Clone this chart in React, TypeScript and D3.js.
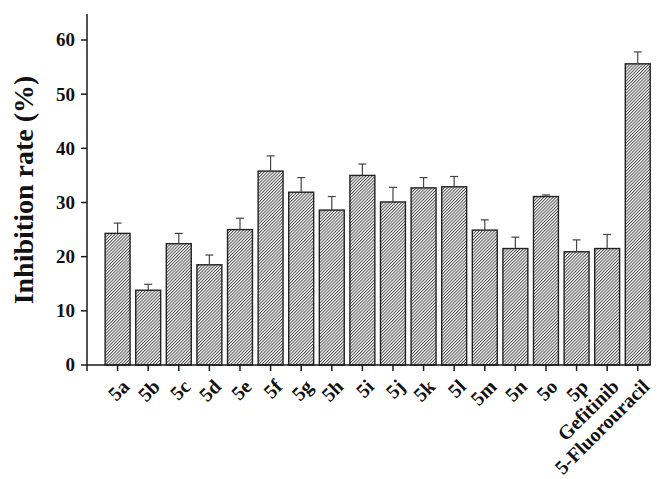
import React from "react";
import * as d3 from "d3";

// Compounds tested, mean inhibition rate (%) and standard deviation
const categories = [
  "5a", "5b", "5c", "5d", "5e", "5f", "5g", "5h", "5i", "5j",
  "5k", "5l", "5m", "5n", "5o", "5p", "Gefitinib", "5-Fluorouracil",
];
const values = [
  24.3, 13.8, 22.4, 18.5, 25.0, 35.8, 31.9, 28.6, 35.0, 30.1,
  32.7, 32.9, 24.9, 21.5, 31.1, 20.9, 21.5, 55.6,
];
const errors = [
  1.9, 1.1, 1.9, 1.8, 2.1, 2.8, 2.7, 2.5, 2.1, 2.7,
  1.9, 1.9, 1.9, 2.1, 0.3, 2.2, 2.6, 2.2,
];
const yTicks = [0, 10, 20, 30, 40, 50, 60];

const W = 660;
const H = 479;
const FONT = "'Liberation Serif', 'Times New Roman', serif";

export default function App() {
  const yMaxAxis = 64.8;
  const y = d3.scaleLinear().domain([0, 60]).range([365, 40]);
  const x = d3.scaleLinear().domain([0, categories.length + 0.4]).range([87, 650]);
  const step = x(1) - x(0);
  const barW = step * 0.815;
  const capW = 8;
  const axisColor = "#1a1a1a";

  return (
    <svg width={W} height={H} style={{ display: "block", position: "absolute", left: 0, top: 0 }}>
      <defs>
        <pattern
          id="hatch"
          patternUnits="userSpaceOnUse"
          width={2.2}
          height={10}
          patternTransform="rotate(45)"
        >
          <rect width={2.2} height={10} fill="#fff" />
          <line x1={0.5} y1={0} x2={0.5} y2={10} stroke="#333" strokeWidth={0.85} />
        </pattern>
      </defs>
      <rect width={W} height={H} fill="#fff" />

      {/* bars */}
      {values.map((v, i) => {
        const cx = x(i + 1);
        return (
          <rect
            key={categories[i]}
            x={cx - barW / 2}
            y={y(v)}
            width={barW}
            height={y(0) - y(v)}
            fill="url(#hatch)"
            stroke="#222"
            strokeWidth={1.4}
          />
        );
      })}

      {/* error bars (upper whisker) */}
      {values.map((v, i) => {
        const cx = x(i + 1);
        const top = y(v + errors[i]);
        return (
          <g key={"e" + i} stroke="#444" strokeWidth={1.2}>
            <line x1={cx} x2={cx} y1={y(v)} y2={top} />
            <line x1={cx - capW / 2} x2={cx + capW / 2} y1={top} y2={top} />
          </g>
        );
      })}

      {/* y axis */}
      <line x1={x(0)} x2={x(0)} y1={y(0)} y2={y(yMaxAxis)} stroke={axisColor} strokeWidth={1.5} />
      {yTicks.map((t) => (
        <g key={"y" + t}>
          <line x1={x(0) - 6} x2={x(0)} y1={y(t)} y2={y(t)} stroke={axisColor} strokeWidth={1.5} />
          <text
            x={x(0) - 12}
            y={y(t)}
            dy="0.34em"
            textAnchor="end"
            fontFamily={FONT}
            fontWeight="bold"
            fontSize={19}
            fill="#111"
          >
            {t}
          </text>
        </g>
      ))}

      {/* x axis */}
      <line x1={x(0)} x2={x(categories.length + 0.4)} y1={y(0)} y2={y(0)} stroke={axisColor} strokeWidth={1.5} />
      <line x1={x(0)} x2={x(0)} y1={y(0)} y2={y(0) + 6} stroke={axisColor} strokeWidth={1.5} />
      {categories.map((c, i) => {
        const cx = x(i + 1);
        return (
          <g key={"x" + c}>
            <line x1={cx} x2={cx} y1={y(0)} y2={y(0) + 6} stroke={axisColor} strokeWidth={1.5} />
            <text
              transform={`translate(${cx + 3},${y(0) + 13}) rotate(-45)`}
              textAnchor="end"
              dy="0.7em"
              fontFamily={FONT}
              fontWeight="bold"
              fontSize={20}
              fill="#111"
            >
              {c}
            </text>
          </g>
        );
      })}

      {/* y axis title */}
      <text
        transform={`translate(33,190) rotate(-90)`}
        textAnchor="middle"
        fontFamily={FONT}
        fontWeight="bold"
        fontSize={28}
        fill="#111"
      >
        Inhibition rate (%)
      </text>
    </svg>
  );
}
